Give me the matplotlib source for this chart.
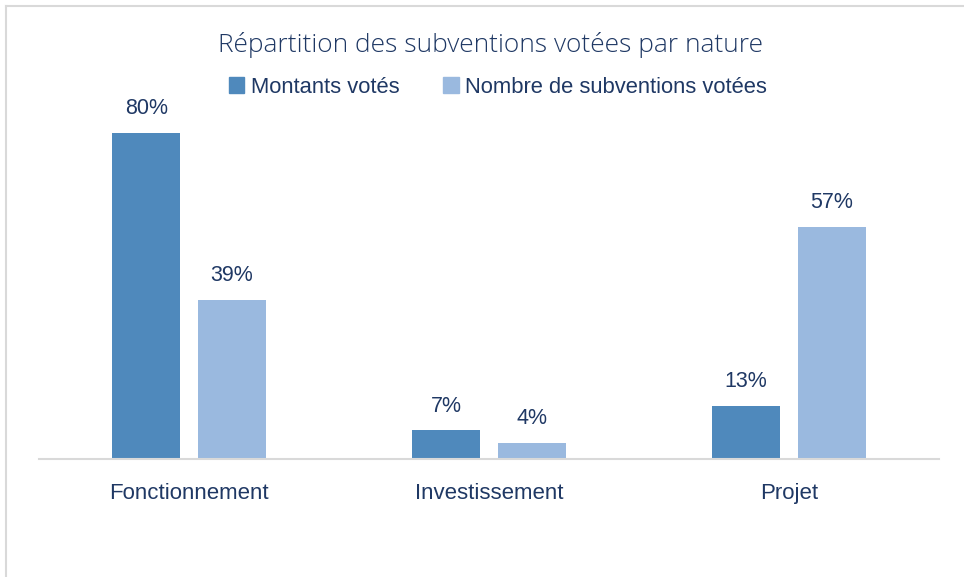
import numpy as np
import matplotlib.pyplot as plt
from matplotlib.lines import Line2D
from matplotlib.patches import Patch

categories = ["Fonctionnement", "Investissement", "Projet"]
montants = [80, 7, 13]
nombre = [39, 4, 57]
series_names = ["Montants votés", "Nombre de subventions votées"]

DARK = "#4F89BC"
LIGHT = "#9AB9DF"
TEXT = "#1F3864"
GRID = "#D9D9D9"

plt.rcParams["font.family"] = ["Liberation Sans", "DejaVu Sans"]

fig = plt.figure(figsize=(9.64, 5.77), dpi=100)
ax = fig.add_axes([39 / 964, 118 / 577, 900 / 964, 359 / 577])

x = np.arange(len(categories))
width = 0.227
offset = 0.1425
b1 = ax.bar(x - offset, montants, width, color=DARK)
b2 = ax.bar(x + offset, nombre, width, color=LIGHT)

# value labels above each bar
for bars, vals in ((b1, montants), (b2, nombre)):
    for rect, v in zip(bars, vals):
        ax.annotate(f"{v}%", (rect.get_x() + rect.get_width() / 2, v),
                    xytext=(0, 10), textcoords="offset points",
                    ha="center", va="bottom", fontsize=15.5, color=TEXT)

ax.set_xlim(-0.5, 2.5)
ax.set_ylim(0, 88.1)
ax.set_yticks([])
ax.set_xticks(x)
ax.set_xticklabels(categories, fontsize=16, color=TEXT)
ax.tick_params(axis="x", length=0, pad=17)
for side in ("top", "right", "left"):
    ax.spines[side].set_visible(False)
ax.spines["bottom"].set_color(GRID)
ax.spines["bottom"].set_linewidth(1.5)

fig.text(490 / 964, 1 - 45 / 577, "Répartition des subventions votées par nature",
         ha="center", va="center", fontsize=18.9, color=TEXT,
         family=["Open Sans", "DejaVu Sans"], fontweight="light")

handles = [Patch(color=DARK), Patch(color=LIGHT)]
fig.legend(handles, series_names, loc="center", bbox_to_anchor=(498 / 964, 1 - 87 / 577),
           ncol=2, frameon=False, fontsize=15.8, labelcolor=TEXT,
           handlelength=0.7, handleheight=0.7, handletextpad=0.3, columnspacing=2.0)

# light frame around the chart area
fig.add_artist(Line2D([6 / 964, 1], [1 - 6 / 577, 1 - 6 / 577], color=GRID, lw=1.5))
fig.add_artist(Line2D([6 / 964, 6 / 964], [0, 1 - 6 / 577], color=GRID, lw=1.5))

fig.savefig("out.png", dpi=100)
